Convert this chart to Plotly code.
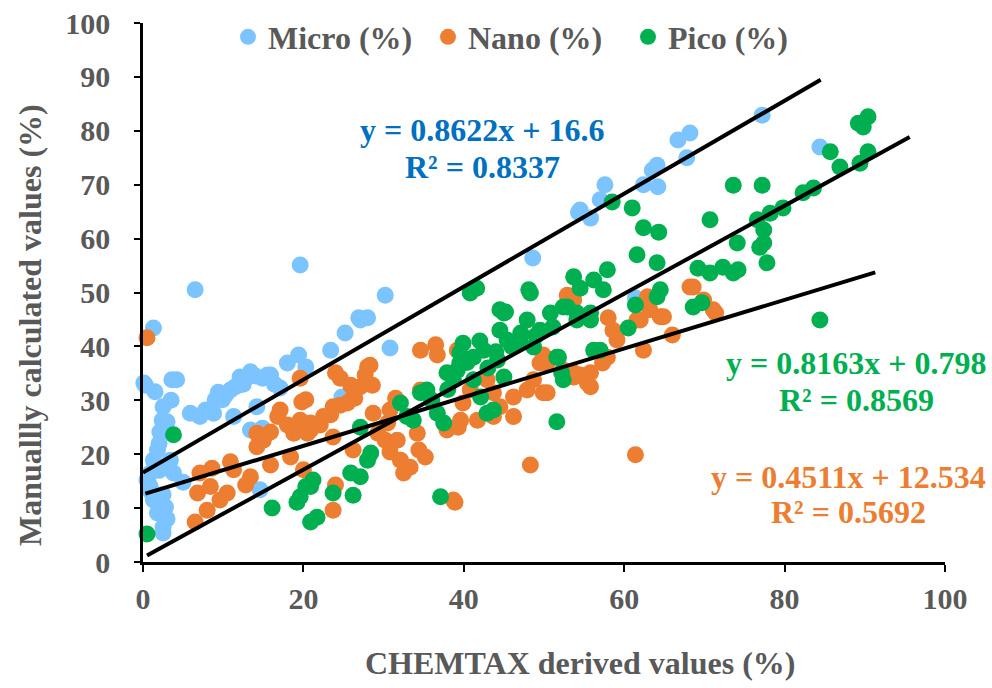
import plotly.graph_objects as go

# Micro-phytoplankton fraction: CHEMTAX (x) vs manual calculation (y)
micro_x = [0.3, 1.3, 6.5, 19.6, 19.4, 30.2, 30.8, 23.4, 25.2, 27.1, 28.0, 48.6, 54.3, 55.8, 57.0,
           57.6, 62.4, 63.5, 64.2, 64.1, 66.7, 68.2, 67.8, 77.2, 84.4, 0.1, 1.5, 3.6, 4.2, 2.5,
           2.4, 2.1, 5.9, 7.1, 8.8, 9.9, 10.9, 12.1, 13.4, 15.5, 11.3, 14.2, 13.4, 14.9, 18.0,
           1.8, 1.3, 0.5, 0.9, 3.4, 3.8, 5.0, 1.3, 1.8, 2.5, 2.5, 0.9, 2.8, 14.6, 3.0, 2.0,
           3.5, 1.0, 2.5, 3.0, 2.0, 17.1, 11.9, 12.7, 14.0, 14.9, 15.9, 10.3, 9.0, 7.8, 9.4,
           26.9, 20.3, 24.8, 61.4, 54.5, 16.4, 12.5, 11.5]
micro_y = [32.8, 43.4, 50.5, 55.1, 38.4, 49.5, 39.7, 39.3, 42.5, 44.9, 45.3, 56.4, 64.9, 63.8, 67.2,
           70.0, 70.0, 72.7, 69.6, 73.6, 78.3, 79.6, 75.0, 82.9, 77.0, 33.2, 31.6, 33.8, 33.8, 28.8,
           26.3, 24.1, 27.6, 27.0, 27.6, 30.1, 31.9, 34.3, 35.3, 34.7, 27.0, 28.8, 24.5, 24.8, 36.9,
           20.8, 18.9, 15.2, 14.0, 18.9, 16.5, 14.8, 11.5, 9.1, 6.5, 5.4, 16.5, 10.2, 13.4, 26.0, 22.0,
           30.0, 13.0, 12.5, 8.0, 17.0, 32.3, 32.8, 33.8, 34.5, 34.1, 34.7, 31.0, 30.1, 28.2, 31.5,
           45.3, 36.2, 30.6, 49.0, 65.3, 33.0, 33.0, 32.5]

# Nano-phytoplankton fraction
nano_x = [0.5, 19.6, 19.8, 16.8, 18.0, 18.8, 15.0, 14.2, 15.9, 18.4, 10.9, 11.3, 8.6, 7.1, 6.8,
          8.4, 9.6, 10.5, 8.0, 6.5, 12.8, 13.4, 20.0, 15.9, 14.2, 17.1, 19.6, 20.9, 22.1, 23.4,
          24.6, 26.4, 27.7, 25.9, 24.6, 28.3, 28.6, 20.3, 24.0, 28.0, 27.1, 26.2, 25.5, 23.7, 22.5,
          20.9, 20.5, 23.7, 26.2, 29.3, 30.5, 31.5, 30.8, 30.2, 31.7, 30.8, 32.1, 32.5, 34.2, 34.4,
          35.2, 33.3, 34.6, 36.5, 36.7, 34.6, 37.9, 39.3, 39.9, 40.8, 42.9, 43.7, 44.5, 46.2, 47.9,
          48.7, 49.9, 46.2, 43.7, 41.7, 39.6, 48.3, 38.7, 24.0, 23.7, 53.7, 55.8, 52.9, 49.9, 50.4,
          39.2, 28.7, 62.9, 63.2, 64.5, 62.0, 58.0, 58.6, 59.1, 62.4, 57.9, 57.3, 66.0, 68.6, 69.9,
          71.4, 49.5, 55.8, 55.4, 53.7, 50.4, 53.7, 68.2, 71.1, 61.6, 64.9, 54.5, 52.4, 61.4, 38.9]
nano_y = [41.6, 34.1, 29.7, 27.0, 25.4, 23.9, 22.6, 21.4, 18.0, 19.5, 18.6, 17.1, 17.4, 16.5, 12.8,
          14.0, 11.5, 12.8, 9.6, 7.4, 14.3, 15.8, 17.1, 24.1, 23.9, 28.2, 26.3, 24.5, 25.4, 27.3,
          29.1, 30.4, 34.7, 32.8, 34.1, 36.5, 32.8, 30.1, 35.1, 36.2, 32.5, 30.6, 29.5, 28.8, 27.0,
          25.8, 23.9, 23.2, 20.8, 23.9, 25.8, 30.4, 28.2, 22.6, 22.6, 20.4, 18.9, 16.5, 23.9, 20.8,
          19.5, 17.6, 39.3, 40.3, 38.4, 31.9, 24.5, 25.0, 29.5, 31.9, 33.8, 31.4, 28.8, 30.6, 31.9,
          33.8, 31.4, 27.0, 27.0, 26.3, 26.3, 18.0, 11.5, 14.3, 9.6, 34.3, 32.5, 49.5, 38.4, 36.9,
          39.3, 27.6, 49.2, 46.8, 45.5, 44.9, 45.3, 43.0, 41.2, 39.3, 38.0, 36.9, 42.1, 51.0, 48.6,
          46.2, 36.9, 35.1, 33.2, 35.1, 31.4, 48.6, 51.0, 46.8, 44.9, 45.5, 34.7, 35.6, 19.9, 11.1]

# Pico-phytoplankton fraction
pico_x = [0.5, 3.8, 16.1, 19.2, 20.9, 20.9, 19.6, 21.2, 20.3, 23.7, 26.2, 25.9, 27.1, 28.4, 28.0,
          21.7, 27.1, 32.1, 32.9, 33.7, 34.6, 35.4, 36.7, 37.5, 37.1, 37.9, 38.7, 39.5, 39.9, 39.5,
          39.2, 41.2, 41.2, 42.5, 42.1, 42.9, 43.7, 44.2, 44.5, 45.0, 45.4, 47.1, 47.9, 48.3, 48.7,
          49.5, 50.8, 51.1, 52.9, 54.1, 51.6, 52.4, 51.6, 45.0, 40.8, 41.6, 55.8, 56.2, 58.5, 61.0,
          62.4, 64.3, 61.6, 64.1, 73.6, 77.2, 70.7, 74.1, 76.9, 77.8, 76.6, 78.2, 79.8, 82.3, 83.6,
          77.4, 85.7, 86.9, 89.2, 90.4, 89.4, 90.4, 89.8, 84.4, 69.2, 70.7, 72.3, 73.6, 74.2, 68.6,
          69.7, 53.7, 54.5, 56.2, 57.9, 57.4, 52.4, 54.1, 55.8, 61.4, 64.1, 64.5, 60.5, 57.0, 51.8,
          52.2, 48.1, 44.5, 45.2, 77.4, 40.4, 43.0, 46.0, 42.0, 38.0, 36.0, 44.0, 47.0, 49.0]
pico_y = [5.2, 23.6, 10.0, 11.1, 14.0, 7.4, 12.1, 15.2, 14.0, 12.8, 12.4, 16.5, 15.8, 20.2, 18.9,
          8.3, 25.0, 29.5, 27.0, 26.3, 31.4, 31.9, 27.6, 25.8, 12.1, 35.1, 33.8, 36.9, 40.6, 38.8,
          35.6, 33.8, 38.0, 39.3, 30.6, 27.6, 28.2, 37.5, 43.0, 46.2, 41.2, 42.5, 44.9, 49.9, 39.9,
          43.0, 46.2, 43.6, 47.3, 44.9, 38.0, 33.8, 26.0, 34.3, 49.9, 50.8, 46.2, 39.3, 66.8, 65.7,
          62.0, 61.2, 57.0, 55.5, 69.9, 69.9, 63.5, 59.2, 58.4, 55.5, 63.5, 64.7, 65.7, 68.5, 69.4,
          61.6, 76.1, 73.3, 81.4, 82.6, 74.0, 76.1, 80.7, 44.9, 54.5, 53.6, 54.7, 53.6, 54.2, 47.3,
          48.1, 52.9, 50.8, 52.3, 54.2, 50.5, 47.3, 46.2, 44.9, 47.7, 49.2, 50.5, 43.4, 39.3, 38.0,
          35.1, 50.5, 46.8, 46.4, 59.2, 37.0, 36.0, 40.0, 41.0, 32.0, 30.0, 39.0, 41.0, 42.0]

# Linear fits (slope, intercept, R²) and the x-span each fitted line covers
fits = {
    "micro": dict(slope=0.8622, intercept=16.6, r2=0.8337, x0=0.0, x1=84.5),
    "nano": dict(slope=0.4511, intercept=12.534, r2=0.5692, x0=0.3, x1=91.3),
    "pico": dict(slope=0.8163, intercept=0.798, r2=0.8569, x0=0.5, x1=95.6),
}

C_MICRO = "#7CC4FF"
C_NANO = "#ED7D31"
C_PICO = "#00B050"
TXT = "#595959"
FONT = "Liberation Serif"

fig = go.Figure()
for name, xs, ys, col in [("Micro (%)", micro_x, micro_y, C_MICRO),
                          ("Nano (%)", nano_x, nano_y, C_NANO),
                          ("Pico (%)", pico_x, pico_y, C_PICO)]:
    fig.add_trace(go.Scatter(x=xs, y=ys, mode="markers", name=f"<b>{name}</b>", cliponaxis=False,
                             marker=dict(size=17, color=col, line=dict(width=0))))

for key in ["micro", "nano", "pico"]:
    f = fits[key]
    xs = [f["x0"], f["x1"]]
    ys = [f["slope"] * v + f["intercept"] for v in xs]
    fig.add_trace(go.Scatter(x=xs, y=ys, mode="lines", showlegend=False, hoverinfo="skip",
                             cliponaxis=False, line=dict(color="black", width=4)))


# paper coords: plot spans x 143..945 px, y 23..562 px
def px(xp):
    return (xp - 143) / 802


def py(yp):
    return (562 - yp) / 539


def eq_label(key, color, cx, cy1, cy2):
    f = fits[key]
    sign = "+" if f["intercept"] >= 0 else "-"
    line1 = f"y = {f['slope']:g}x {sign} {abs(f['intercept']):g}"
    line2 = f"R² = {f['r2']:g}"
    for txt, cy in [(line1, cy1), (line2, cy2)]:
        fig.add_annotation(x=px(cx), y=py(cy), xref="paper", yref="paper", text=f"<b>{txt}</b>",
                           showarrow=False, xanchor="center", yanchor="middle",
                           font=dict(family=FONT, size=32, color=color))


eq_label("micro", "#0070C0", 482, 130, 167)
eq_label("pico", C_PICO, 856, 363, 400)
eq_label("nano", C_NANO, 848, 477, 512)

fig.add_annotation(x=px(580), y=py(663), xref="paper", yref="paper",
                   text="<b>CHEMTAX derived values (%)</b>", showarrow=False,
                   xanchor="center", yanchor="middle",
                   font=dict(family=FONT, size=32, color=TXT))
fig.add_annotation(x=px(30), y=py(325), xref="paper", yref="paper",
                   text="<b>Manuallly calculated values (%)</b>", showarrow=False, textangle=-90,
                   xanchor="center", yanchor="middle",
                   font=dict(family=FONT, size=32, color=TXT))

axis_common = dict(showline=True, linecolor="black", linewidth=2.5, ticks="outside",
                   tickcolor="black", tickwidth=2, showgrid=False, zeroline=False,
                   tickfont=dict(family=FONT, size=30, color=TXT))
fig.update_xaxes(range=[0, 100], tickvals=[0, 20, 40, 60, 80, 100],
                 ticktext=["<b>0</b>", "<b>20</b>", "<b>40</b>", "<b>60</b>", "<b>80</b>", "<b>100</b>"],
                 ticklen=7, ticklabelstandoff=1, **axis_common)
fig.update_yaxes(range=[0, 100], tickvals=list(range(0, 101, 10)),
                 ticktext=[f"<b>{v}</b>" for v in range(0, 101, 10)],
                 ticklen=6, ticklabelstandoff=18, **axis_common)

fig.update_layout(
    width=992, height=688,
    margin=dict(l=143, r=47, t=23, b=126, autoexpand=False),
    plot_bgcolor="white", paper_bgcolor="white",
    showlegend=True,
    legend=dict(orientation="h", x=px(228), y=py(37), xanchor="left", yanchor="middle",
                font=dict(family=FONT, size=32, color=TXT), bgcolor="rgba(0,0,0,0)",
                itemsizing="trace", entrywidth=155, entrywidthmode="pixels"),
)

fig.write_html("out.html")
